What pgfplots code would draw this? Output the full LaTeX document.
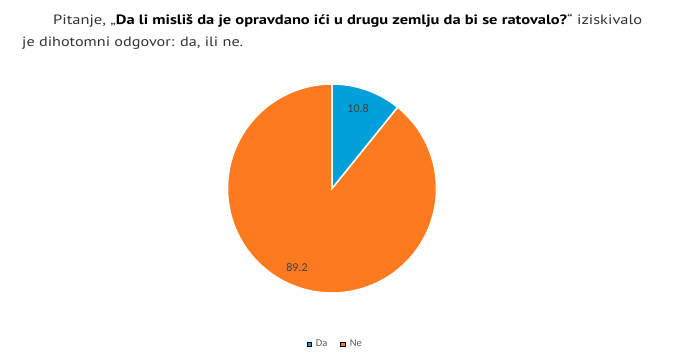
\documentclass[border=0pt]{standalone}
\usepackage{pgfplots}
\pgfplotsset{compat=1.18}
\usepackage{pgfplotstable}
\usepackage{graphicx}
\usepackage{fontspec}
\setmainfont{Carlito}
\newfontfamily\topfont{PT Sans}
\definecolor{dablue}{RGB}{0,160,218}
\definecolor{neorange}{RGB}{253,122,30}
\definecolor{txtgray}{RGB}{51,51,51}
\definecolor{lblgray}{RGB}{64,64,64}
\definecolor{leggray}{RGB}{89,89,89}
\pgfplotstableread{
label value
Da 10.8
Ne 89.2
}\piedata
\begin{document}
\begin{tikzpicture}[x=1bp,y=1bp]
\useasboundingbox (0,0) rectangle (679,354);
\pgfplotstablegetelem{0}{value}\of\piedata \let\vDa\pgfplotsretval
\pgfplotstablegetelem{1}{value}\of\piedata \let\vNe\pgfplotsretval
\pgfmathsetmacro{\aA}{90-3.6*\vDa}
\pgfmathsetmacro{\aB}{\aA-3.6*\vNe}
\pgfmathsetmacro{\cA}{cos(\aA)}
\pgfmathsetmacro{\sA}{sin(\aA)}
% title text
\node[anchor=base west, inner sep=0pt, text=txtgray, font=\topfont\fontsize{13.5bp}{16bp}\selectfont] at (53,330)
  {\resizebox{589bp}{\height}{Pitanje, „\textbf{\color{black}Da li misliš da je opravdano ići u drugu zemlju da bi se ratovalo?}“ iziskivalo}};
\node[anchor=base west, inner sep=0pt, text=txtgray, font=\topfont\fontsize{13.5bp}{16bp}\selectfont] at (22,308)
  {\resizebox{221bp}{\height}{je dihotomni odgovor: da, ili ne.}};
\begin{axis}[
  at={(332bp,165.5bp)}, anchor=center,
  width=209bp, height=209bp, scale only axis,
  xmin=-1, xmax=1, ymin=-1, ymax=1,
  hide axis, clip=false,
  legend style={draw=none, fill=none, at={(axis description cs:0.515,-0.244)}, anchor=center,
    font=\fontsize{10.5bp}{12bp}\selectfont, text=leggray, legend columns=2,
    /tikz/every odd column/.append style={column sep=2.5bp},
    /tikz/every even column/.append style={column sep=11bp},
    inner sep=0pt},
  legend image code/.code={\fill[#1] (0bp,-2.2bp) rectangle (4.5bp,2.3bp);},
]
\addplot[forget plot, fill=neorange, draw=white, line width=1.5bp] coordinates {(0,0) (\cA,\sA)} arc[start angle=\aA, end angle=\aB, radius=104.5bp] -- cycle;
\addplot[forget plot, fill=dablue, draw=white, line width=1.5bp] coordinates {(0,0) (0,1)} arc[start angle=90, end angle=\aA, radius=104.5bp] -- cycle;
\addlegendimage{fill=dablue}
\addlegendentry{Da}
\addlegendimage{fill=neorange}
\addlegendentry{Ne}
\node[text=lblgray, font=\fontsize{12bp}{14bp}\selectfont] at (axis cs:0.25,0.77) {\vDa};
\node[text=lblgray, font=\fontsize{12bp}{14bp}\selectfont] at (axis cs:-0.335,-0.751) {\vNe};
\end{axis}
\end{tikzpicture}
\end{document}
